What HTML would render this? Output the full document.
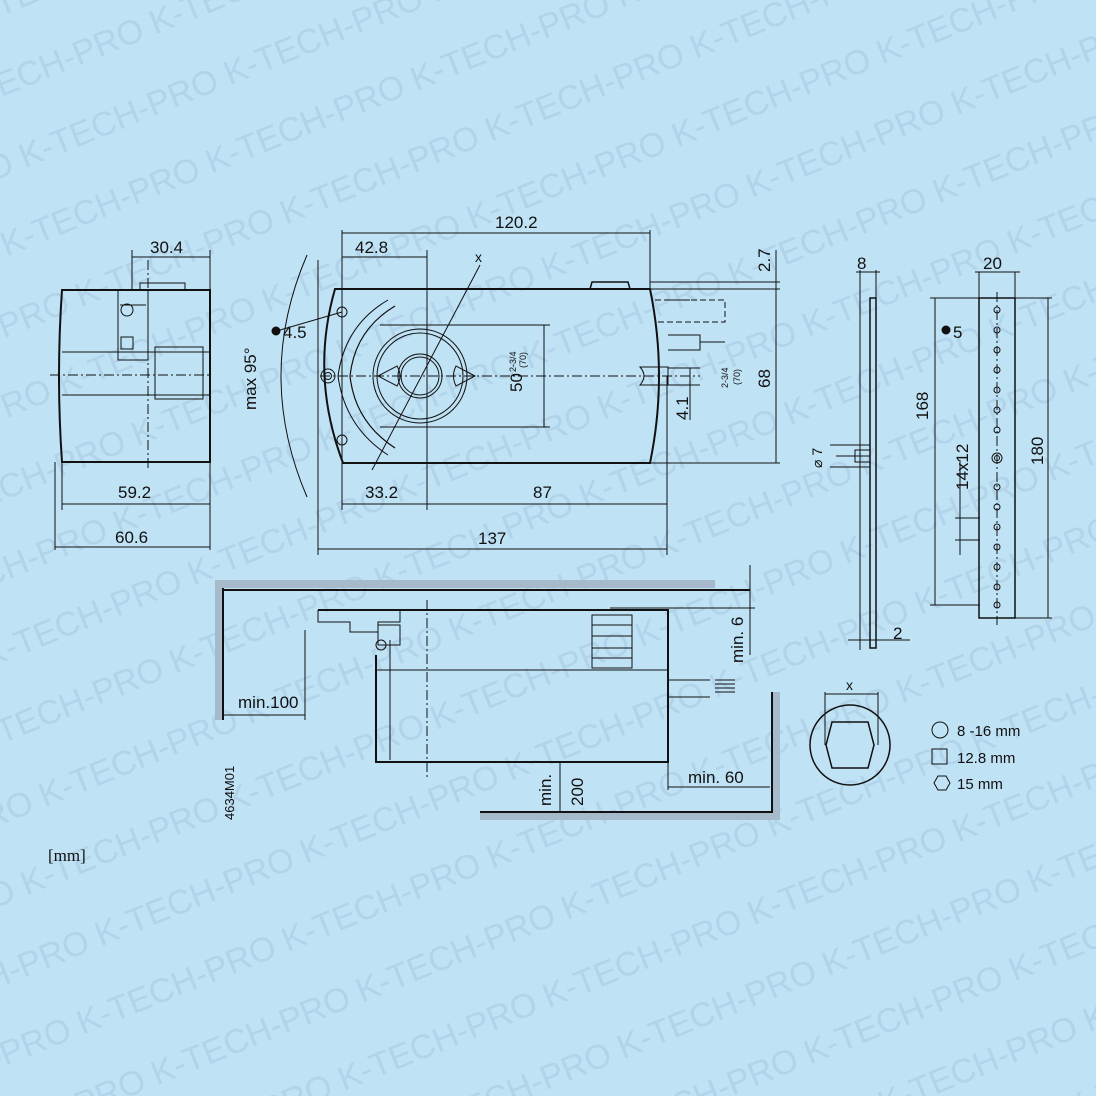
<!DOCTYPE html>
<html><head><meta charset="utf-8"><style>
html,body{margin:0;padding:0;background:#c0e2f5;width:1096px;height:1096px;overflow:hidden;}
svg{display:block;}
text{font-family:"Liberation Sans",Arial,sans-serif;fill:#111;}
.wm text{fill:#b2d4ea;}
</style></head><body>
<svg width="1096" height="1096" viewBox="0 0 1096 1096" xmlns="http://www.w3.org/2000/svg" style="overflow:hidden">
<defs><clipPath id="cp"><rect width="1096" height="1096"/></clipPath></defs>
<rect width="1096" height="1096" fill="#c0e2f5"/>
<g clip-path="url(#cp)">
<g class="wm" transform="rotate(-22 548 548)" font-size="34">
<text x="-900" y="-300">K-TECH-PRO K-TECH-PRO K-TECH-PRO K-TECH-PRO K-TECH-PRO K-TECH-PRO K-TECH-PRO K-TECH-PRO K-TECH-PRO K-TECH-PRO K-TECH-PRO</text>
<text x="-950" y="-225">K-TECH-PRO K-TECH-PRO K-TECH-PRO K-TECH-PRO K-TECH-PRO K-TECH-PRO K-TECH-PRO K-TECH-PRO K-TECH-PRO K-TECH-PRO K-TECH-PRO</text>
<text x="-900" y="-150">K-TECH-PRO K-TECH-PRO K-TECH-PRO K-TECH-PRO K-TECH-PRO K-TECH-PRO K-TECH-PRO K-TECH-PRO K-TECH-PRO K-TECH-PRO K-TECH-PRO</text>
<text x="-950" y="-75">K-TECH-PRO K-TECH-PRO K-TECH-PRO K-TECH-PRO K-TECH-PRO K-TECH-PRO K-TECH-PRO K-TECH-PRO K-TECH-PRO K-TECH-PRO K-TECH-PRO</text>
<text x="-900" y="0">K-TECH-PRO K-TECH-PRO K-TECH-PRO K-TECH-PRO K-TECH-PRO K-TECH-PRO K-TECH-PRO K-TECH-PRO K-TECH-PRO K-TECH-PRO K-TECH-PRO</text>
<text x="-950" y="75">K-TECH-PRO K-TECH-PRO K-TECH-PRO K-TECH-PRO K-TECH-PRO K-TECH-PRO K-TECH-PRO K-TECH-PRO K-TECH-PRO K-TECH-PRO K-TECH-PRO</text>
<text x="-900" y="150">K-TECH-PRO K-TECH-PRO K-TECH-PRO K-TECH-PRO K-TECH-PRO K-TECH-PRO K-TECH-PRO K-TECH-PRO K-TECH-PRO K-TECH-PRO K-TECH-PRO</text>
<text x="-950" y="225">K-TECH-PRO K-TECH-PRO K-TECH-PRO K-TECH-PRO K-TECH-PRO K-TECH-PRO K-TECH-PRO K-TECH-PRO K-TECH-PRO K-TECH-PRO K-TECH-PRO</text>
<text x="-900" y="300">K-TECH-PRO K-TECH-PRO K-TECH-PRO K-TECH-PRO K-TECH-PRO K-TECH-PRO K-TECH-PRO K-TECH-PRO K-TECH-PRO K-TECH-PRO K-TECH-PRO</text>
<text x="-950" y="375">K-TECH-PRO K-TECH-PRO K-TECH-PRO K-TECH-PRO K-TECH-PRO K-TECH-PRO K-TECH-PRO K-TECH-PRO K-TECH-PRO K-TECH-PRO K-TECH-PRO</text>
<text x="-900" y="450">K-TECH-PRO K-TECH-PRO K-TECH-PRO K-TECH-PRO K-TECH-PRO K-TECH-PRO K-TECH-PRO K-TECH-PRO K-TECH-PRO K-TECH-PRO K-TECH-PRO</text>
<text x="-950" y="525">K-TECH-PRO K-TECH-PRO K-TECH-PRO K-TECH-PRO K-TECH-PRO K-TECH-PRO K-TECH-PRO K-TECH-PRO K-TECH-PRO K-TECH-PRO K-TECH-PRO</text>
<text x="-900" y="600">K-TECH-PRO K-TECH-PRO K-TECH-PRO K-TECH-PRO K-TECH-PRO K-TECH-PRO K-TECH-PRO K-TECH-PRO K-TECH-PRO K-TECH-PRO K-TECH-PRO</text>
<text x="-950" y="675">K-TECH-PRO K-TECH-PRO K-TECH-PRO K-TECH-PRO K-TECH-PRO K-TECH-PRO K-TECH-PRO K-TECH-PRO K-TECH-PRO K-TECH-PRO K-TECH-PRO</text>
<text x="-900" y="750">K-TECH-PRO K-TECH-PRO K-TECH-PRO K-TECH-PRO K-TECH-PRO K-TECH-PRO K-TECH-PRO K-TECH-PRO K-TECH-PRO K-TECH-PRO K-TECH-PRO</text>
<text x="-950" y="825">K-TECH-PRO K-TECH-PRO K-TECH-PRO K-TECH-PRO K-TECH-PRO K-TECH-PRO K-TECH-PRO K-TECH-PRO K-TECH-PRO K-TECH-PRO K-TECH-PRO</text>
<text x="-900" y="900">K-TECH-PRO K-TECH-PRO K-TECH-PRO K-TECH-PRO K-TECH-PRO K-TECH-PRO K-TECH-PRO K-TECH-PRO K-TECH-PRO K-TECH-PRO K-TECH-PRO</text>
<text x="-950" y="975">K-TECH-PRO K-TECH-PRO K-TECH-PRO K-TECH-PRO K-TECH-PRO K-TECH-PRO K-TECH-PRO K-TECH-PRO K-TECH-PRO K-TECH-PRO K-TECH-PRO</text>
<text x="-900" y="1050">K-TECH-PRO K-TECH-PRO K-TECH-PRO K-TECH-PRO K-TECH-PRO K-TECH-PRO K-TECH-PRO K-TECH-PRO K-TECH-PRO K-TECH-PRO K-TECH-PRO</text>
<text x="-950" y="1125">K-TECH-PRO K-TECH-PRO K-TECH-PRO K-TECH-PRO K-TECH-PRO K-TECH-PRO K-TECH-PRO K-TECH-PRO K-TECH-PRO K-TECH-PRO K-TECH-PRO</text>
<text x="-900" y="1200">K-TECH-PRO K-TECH-PRO K-TECH-PRO K-TECH-PRO K-TECH-PRO K-TECH-PRO K-TECH-PRO K-TECH-PRO K-TECH-PRO K-TECH-PRO K-TECH-PRO</text>
<text x="-950" y="1275">K-TECH-PRO K-TECH-PRO K-TECH-PRO K-TECH-PRO K-TECH-PRO K-TECH-PRO K-TECH-PRO K-TECH-PRO K-TECH-PRO K-TECH-PRO K-TECH-PRO</text>
<text x="-900" y="1350">K-TECH-PRO K-TECH-PRO K-TECH-PRO K-TECH-PRO K-TECH-PRO K-TECH-PRO K-TECH-PRO K-TECH-PRO K-TECH-PRO K-TECH-PRO K-TECH-PRO</text>
<text x="-950" y="1425">K-TECH-PRO K-TECH-PRO K-TECH-PRO K-TECH-PRO K-TECH-PRO K-TECH-PRO K-TECH-PRO K-TECH-PRO K-TECH-PRO K-TECH-PRO K-TECH-PRO</text>
</g>
</g>

<g stroke="#111" fill="none" stroke-width="1">
<path d="M62 290 L210 290 L210 462 L62 462 Q56 376 62 290 Z" stroke-width="2"/>
<rect x="118" y="290" width="30" height="70"/>
<rect x="140" y="283" width="45" height="7"/>
<line x1="62" y1="352" x2="210" y2="352"/><line x1="62" y1="395" x2="210" y2="395"/>
<rect x="155" y="347" width="48" height="52"/>
<line x1="120" y1="305" x2="146" y2="305"/>
<circle cx="127" cy="310" r="6"/><rect x="121" y="337" width="12" height="12"/>
<line x1="148" y1="260" x2="148" y2="470" stroke-dasharray="10 3 2 3"/>
<line x1="50" y1="375" x2="210" y2="375" stroke-dasharray="10 3 2 3"/>
<line x1="132" y1="250" x2="132" y2="290"/><line x1="210" y1="250" x2="210" y2="550"/>
<line x1="132" y1="257" x2="210" y2="257"/>
<line x1="55" y1="462" x2="55" y2="550"/><line x1="62" y1="462" x2="62" y2="510"/>
<line x1="62" y1="504" x2="210" y2="504"/><line x1="55" y1="547" x2="210" y2="547"/>

<path d="M335 289 L650 289 Q668 376 650 463 L343 463 Q310 376 335 289 Z" stroke-width="2"/>
<path d="M590 289 L592 282 L628 282 L630 289" stroke-width="1.5"/>
<circle cx="420" cy="376" r="47"/><circle cx="420" cy="376" r="43"/>
<circle cx="420" cy="376" r="22"/><circle cx="420" cy="376" r="19"/>
<path d="M378 376 L397 366 Q403 376 397 386 Z"/>
<path d="M475 376 L456 366 Q451 376 456 386 Z"/>
<path d="M395 306 Q355 330 350 376 Q355 422 395 448" stroke-width="1.2"/>
<path d="M388 300 Q345 325 338 376 Q345 427 388 455"/>
<circle cx="342" cy="312" r="5"/><circle cx="342" cy="440" r="5"/><circle cx="328" cy="376" r="7"/><circle cx="328" cy="376" r="3.5"/>
<line x1="320" y1="376" x2="700" y2="376" stroke-dasharray="10 3 2 3"/>
<line x1="427" y1="250" x2="427" y2="510"/>
<line x1="342" y1="230" x2="342" y2="510"/>
<line x1="318" y1="260" x2="318" y2="555"/>
<line x1="650" y1="230" x2="650" y2="289"/>
<line x1="667" y1="376" x2="667" y2="555"/>
<line x1="342" y1="257" x2="427" y2="257"/>
<line x1="342" y1="233" x2="650" y2="233"/>
<line x1="342" y1="504" x2="667" y2="504"/>
<line x1="318" y1="549" x2="667" y2="549"/>
<line x1="480" y1="265" x2="372" y2="470"/>
<line x1="380" y1="325" x2="550" y2="325"/><line x1="380" y1="427" x2="550" y2="427"/>
<line x1="544" y1="325" x2="544" y2="427"/>
<path d="M307 255 Q255 376 307 497"/>
<path d="M640 367 Q648 376 640 385 L668 385 L668 367 Z"/>
<path d="M668 300 L690 300 M668 335 L700 335 L700 350 L668 350"/>
<path d="M655 300 L725 300 L725 322 L655 322" stroke-dasharray="6 3"/>
<line x1="700" y1="342" x2="725" y2="342"/>
<line x1="650" y1="282" x2="780" y2="282"/><line x1="630" y1="289" x2="780" y2="289"/>
<line x1="650" y1="463" x2="780" y2="463"/>
<line x1="776" y1="250" x2="776" y2="463"/>
<line x1="690" y1="368" x2="690" y2="420"/><line x1="668" y1="368" x2="700" y2="368"/><line x1="668" y1="385" x2="700" y2="385"/>
<circle cx="276" cy="331" r="4" fill="#111"/><line x1="280" y1="330" x2="342" y2="312"/>

<rect x="870" y="298" width="6" height="350" stroke-width="1.5"/>
<line x1="860" y1="270" x2="860" y2="650"/><line x1="876" y1="270" x2="876" y2="298"/>
<line x1="856" y1="272" x2="880" y2="272"/>
<line x1="836" y1="456" x2="870" y2="456"/>
<rect x="855" y="450" width="15" height="12"/>
<line x1="830" y1="445" x2="870" y2="445"/><line x1="830" y1="467" x2="870" y2="467"/>
<line x1="848" y1="640" x2="910" y2="640"/>
<rect x="979" y="298" width="36" height="320" stroke-width="1.5"/>
<line x1="997" y1="292" x2="997" y2="625" stroke-dasharray="10 3 2 3"/>
<line x1="979" y1="272" x2="979" y2="298"/><line x1="1015" y1="272" x2="1015" y2="298"/>
<line x1="975" y1="272" x2="1020" y2="272"/>
<line x1="930" y1="298" x2="980" y2="298"/><line x1="930" y1="605" x2="980" y2="605"/>
<line x1="935" y1="298" x2="935" y2="605"/>
<line x1="1015" y1="298" x2="1052" y2="298"/><line x1="1015" y1="618" x2="1052" y2="618"/>
<line x1="1048" y1="298" x2="1048" y2="618"/>
<line x1="960" y1="460" x2="960" y2="555"/><line x1="955" y1="518" x2="980" y2="518"/><line x1="955" y1="540" x2="980" y2="540"/>
<circle cx="997" cy="458" r="5"/><circle cx="997" cy="458" r="2.5"/>
<g>
<circle cx="997" cy="310" r="3"/><circle cx="997" cy="330" r="3"/><circle cx="997" cy="350" r="3"/><circle cx="997" cy="370" r="3"/><circle cx="997" cy="390" r="3"/><circle cx="997" cy="410" r="3"/><circle cx="997" cy="430" r="3"/><circle cx="997" cy="487" r="3"/><circle cx="997" cy="507" r="3"/><circle cx="997" cy="527" r="3"/><circle cx="997" cy="547" r="3"/><circle cx="997" cy="567" r="3"/><circle cx="997" cy="587" r="3"/><circle cx="997" cy="605" r="3"/>
</g>
<circle cx="946" cy="330" r="4" fill="#111"/>
</g>

<rect x="215" y="580" width="500" height="8" fill="#a6bacb"/>
<rect x="215" y="580" width="8" height="140" fill="#a6bacb"/>
<rect x="480" y="812" width="300" height="8" fill="#a6bacb"/>
<rect x="772" y="692" width="8" height="128" fill="#a6bacb"/>
<g stroke="#111" fill="none">
<path d="M223 588 L223 720 M223 590 L750 590" stroke-width="2"/>
<path d="M480 812 L772 812 L772 692" stroke-width="2"/>
<line x1="223" y1="715" x2="305" y2="715"/><line x1="305" y1="630" x2="305" y2="720"/>
<path d="M318 610 L668 610 L668 762 L376 762 L376 655" stroke-width="2"/>
<path d="M318 610 L318 622 L350 622 L350 632 L378 632 L378 622 L400 622 L400 610"/>
<line x1="376" y1="670" x2="668" y2="670"/>
<rect x="378" y="625" width="22" height="20"/><circle cx="381" cy="645" r="5"/>
<rect x="592" y="615" width="40" height="53"/>
<line x1="592" y1="625" x2="632" y2="625"/><line x1="592" y1="636" x2="632" y2="636"/><line x1="592" y1="648" x2="632" y2="648"/><line x1="592" y1="658" x2="632" y2="658"/>
<line x1="427" y1="600" x2="427" y2="780" stroke-dasharray="10 3 2 3"/>
<line x1="390" y1="640" x2="390" y2="760"/>
<path d="M668 680 L710 680 M668 697 L710 697 M715 680 L735 680 M715 684 L735 684 M715 688 L735 688 M715 692 L735 692"/>
<line x1="610" y1="608" x2="755" y2="608"/><line x1="750" y1="565" x2="750" y2="655"/>
<line x1="560" y1="762" x2="560" y2="812"/>
<line x1="668" y1="762" x2="668" y2="790"/><line x1="668" y1="787" x2="770" y2="787"/>
<circle cx="850" cy="745" r="40" stroke-width="1.5"/>
<path d="M832 722 L868 722 L874 745 L868 768 L832 768 L826 745 Z" stroke-width="1.5"/>
<line x1="825" y1="692" x2="825" y2="745"/><line x1="878" y1="692" x2="878" y2="745"/>
<line x1="825" y1="694" x2="878" y2="694"/>
<circle cx="940" cy="730" r="8"/>
<rect x="932" y="749" width="15" height="15"/>
<path d="M934 783 L938 776 L946 776 L950 783 L946 790 L938 790 Z"/>
</g>

<g font-size="17">
<text x="150" y="253">30.4</text>
<text x="118" y="498">59.2</text>
<text x="115" y="543">60.6</text>
<text x="355" y="253">42.8</text>
<text x="495" y="228">120.2</text>
<text x="475" y="262" font-size="14">x</text>
<text x="283" y="338">4.5</text>
<text x="365" y="498">33.2</text>
<text x="533" y="498">87</text>
<text x="478" y="544">137</text>
<text x="256" y="410" transform="rotate(-90 256 410)">max 95°</text>
<text x="522" y="392" transform="rotate(-90 522 392)">50</text>
<text x="516" y="372" font-size="9" transform="rotate(-90 516 372)">2-3/4</text>
<text x="526" y="368" font-size="9" transform="rotate(-90 526 368)">(70)</text>
<text x="728" y="388" font-size="9" transform="rotate(-90 728 388)">2-3/4</text>
<text x="740" y="385" font-size="9" transform="rotate(-90 740 385)">(70)</text>
<text x="688" y="420" transform="rotate(-90 688 420)">4.1</text>
<text x="770" y="272" transform="rotate(-90 770 272)">2.7</text>
<text x="770" y="388" transform="rotate(-90 770 388)">68</text>
<text x="857" y="269">8</text>
<text x="983" y="269">20</text>
<text x="953" y="338">5</text>
<text x="928" y="420" transform="rotate(-90 928 420)">168</text>
<text x="968" y="490" transform="rotate(-90 968 490)">14x12</text>
<text x="1043" y="465" transform="rotate(-90 1043 465)">180</text>
<text x="822" y="468" font-size="14" transform="rotate(-90 822 468)">⌀ 7</text>
<text x="893" y="639">2</text>
<text x="238" y="708">min.100</text>
<text x="743" y="663" transform="rotate(-90 743 663)">min. 6</text>
<text x="688" y="783">min. 60</text>
<text x="551" y="806" transform="rotate(-90 551 806)">min.</text>
<text x="583" y="806" transform="rotate(-90 583 806)">200</text>
<text x="234" y="820" font-size="13" transform="rotate(-90 234 820)">4634M01</text>
<text x="846" y="690" font-size="14">x</text>
<text x="957" y="736" font-size="15">8 -16 mm</text>
<text x="957" y="763" font-size="15">12.8 mm</text>
<text x="957" y="789" font-size="15">15 mm</text>
<text x="48" y="861" style="font-family:'Liberation Serif',serif" font-size="17">[mm]</text>
</g>
</svg>
</body></html>
